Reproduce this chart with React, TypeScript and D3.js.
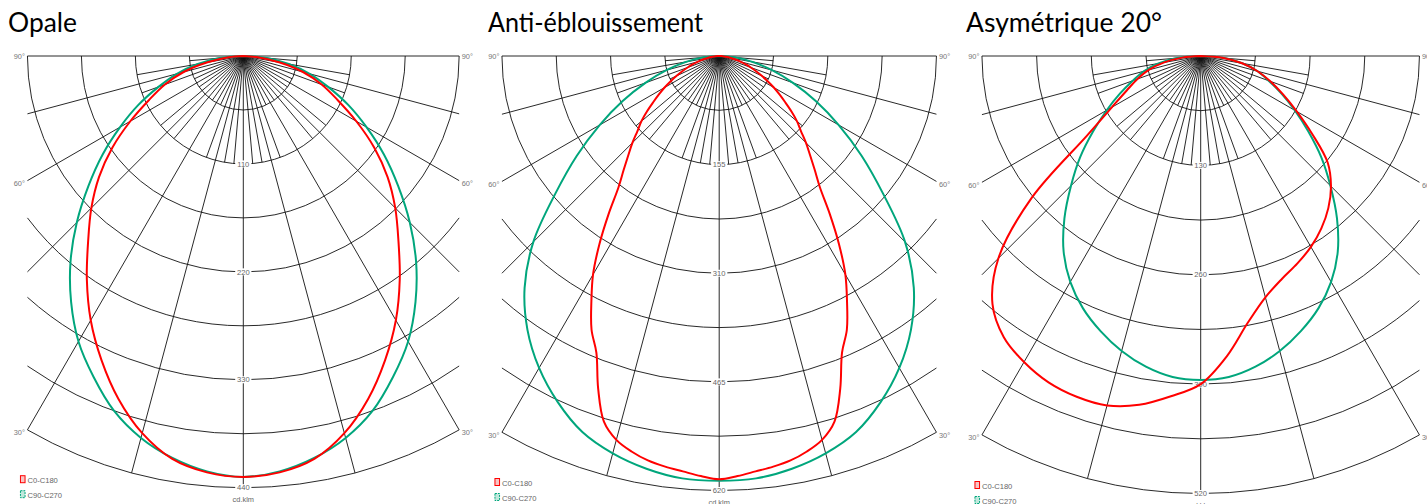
import * as d3 from "d3";

// panel layout
const TITLES = ["Opale", "Anti-éblouissement", "Asymétrique 20°"];
const TITLE_X = [8, 488, 966];
const TITLE_W = [69, 215, 196];
const CENTER_X = [243.3, 719.2, 1200.7];
const CENTER_Y = 56;
const R_MAX = [431.7, 434.5, 437.5];
const RING_STEP = [55, 77.5, 65];
const RING_LABELS = [
  ["110", "220", "330", "440"],
  ["155", "310", "465", "620"],
  ["130", "260", "390", "520"],
];
const LEGEND = ["C0-C180", "C90-C270"];

// angle from nadir, degrees
const ANGLES = [0, 5, 10, 15, 20, 25, 30, 35, 40, 45, 50, 55, 60, 65, 70, 75, 80, 85, 90];
const ANGLES_FINE = [
  0, 2.5, 5, 7.5, 10, 12.5, 15, 17.5, 20, 22.5, 25, 27.5, 30, 32.5, 35, 37.5, 40, 42.5, 45,
  47.5, 50, 52.5, 55, 57.5, 60, 62.5, 65, 67.5, 70, 72.5, 75, 77.5, 80, 82.5, 85, 87.5, 90,
];

// cd/klm
const opaleC0 = [429, 426, 417, 398, 372, 342, 311, 278, 246, 219, 192, 163, 133, 106, 85, 63, 37, 15, 0];
const opaleC90 = [429, 425, 416, 403, 385, 361, 336, 306, 274, 240, 206, 175, 145, 118, 92, 70, 47, 24, 0];

const antiC0 = [
  604, 600, 595, 591, 586, 578, 567, 547, 505, 458, 431, 395, 360, 318, 275, 236, 212, 192, 175,
  158, 145, 130, 115, 102, 90, 78, 67, 57, 48, 40, 32, 25, 18, 12, 7, 3, 0,
];
const antiC90 = [606, 605, 598, 587, 571, 545, 514, 477, 432, 375, 305, 248, 197, 152, 112, 78, 48, 22, 0];

const asymC0 = [390, 358, 322, 297, 282, 272, 262, 250, 236, 219, 197, 162, 132, 108, 88, 70, 50, 27, 0];
const asymC180 = [390, 406, 421, 430, 431, 428, 420, 408, 385, 340, 262, 165, 122, 97, 80, 64, 44, 22, 0];
const asymC90 = [385, 383, 375, 363, 348, 331, 310, 284, 252, 218, 187, 156, 129, 106, 86, 70, 51, 28, 0];

interface Series {
  angles: number[];
  right: number[];
  left: number[];
  color: string;
}

const RED = "#ff0000";
const GREEN = "#00a67c";

const SERIES: Series[][] = [
  [
    { angles: ANGLES, right: opaleC90, left: opaleC90, color: GREEN },
    { angles: ANGLES, right: opaleC0, left: opaleC0, color: RED },
  ],
  [
    { angles: ANGLES, right: antiC90, left: antiC90, color: GREEN },
    { angles: ANGLES_FINE, right: antiC0, left: antiC0, color: RED },
  ],
  [
    { angles: ANGLES, right: asymC90, left: asymC90, color: GREEN },
    { angles: ANGLES, right: asymC0, left: asymC180, color: RED },
  ],
];

const GRID_ANGLES = [
  -90, -85, -80, -75, -70, -65, -60, -55, -50, -45, -40, -35, -30, -25, -20, -15, -10, -5, 0,
  5, 10, 15, 20, 25, 30, 35, 40, 45, 50, 55, 60, 65, 70, 75, 80, 85, 90,
];
const SIDE_LABELS = [90, 60, 30];

const SMALL_FONT = "Arial, 'Liberation Sans', sans-serif";
const RAD = Math.PI / 180;

function Polar({ i }: { i: number }) {
  const cx = CENTER_X[i];
  const cy = CENTER_Y;
  const rMax = R_MAX[i];
  const halfW = rMax / 2;
  const step = RING_STEP[i];
  const r = d3.scaleLinear().domain([0, step * 8]).range([0, rMax]);
  const rings = [1, 2, 3, 4, 5, 6, 7, 8].map((k) => r(k * step));

  const ringPath = (rr: number) => {
    const t = rr <= halfW + 0.01 ? Math.PI / 2 : Math.asin(halfW / rr);
    const a0 = Math.PI / 2 - t;
    const a1 = Math.PI / 2 + t;
    const p = d3.path();
    p.moveTo(cx + rr * Math.cos(a0), cy + rr * Math.sin(a0));
    p.arc(cx, cy, rr, a0, a1);
    return p.toString();
  };

  // 15° lines run to the frame, 10° ones to the 2nd ring, the rest to the 1st
  const radials = GRID_ANGLES.map((a) => {
    const s = Math.abs(Math.sin(a * RAD));
    let len = r(step);
    if (a % 10 === 0 || Math.abs(a) === 5) len = r(step * 2);
    if (a % 15 === 0) len = s < 1e-6 ? rMax : Math.min(rMax, halfW / s);
    return {
      a,
      x2: cx + len * Math.sin(a * RAD),
      y2: cy + len * Math.cos(a * RAD),
    };
  });

  const line = d3
    .lineRadial<[number, number]>()
    .angle((d) => Math.PI - d[0] * RAD)
    .radius((d) => r(d[1]))
    .curve(d3.curveCatmullRom.alpha(0.5));

  const curvePts = (s: Series): [number, number][] => {
    const pts: [number, number][] = [];
    for (let j = s.angles.length - 1; j >= 0; j--) pts.push([-s.angles[j], s.left[j]]);
    for (let j = 1; j < s.angles.length; j++) pts.push([s.angles[j], s.right[j]]);
    return pts;
  };

  const sideY = (deg: number) =>
    deg === 90 ? cy : deg === 30 ? cy + rMax * Math.cos(30 * RAD) : cy + halfW / Math.tan(deg * RAD);

  const legendTop = cy + rMax - 12;
  const lx = cx - halfW - 7;

  return (
    <g>
      <text
        x={TITLE_X[i]}
        y={32}
        textLength={TITLE_W[i]}
        lengthAdjust="spacingAndGlyphs"
        style={{ fontFamily: "Lato, 'Open Sans', sans-serif", fontSize: 27, fill: "#000" }}
      >
        {TITLES[i]}
      </text>
      <g fill="none" stroke="#111" strokeWidth={0.9}>
        {rings.map((rr, k) => (
          <path key={k} d={ringPath(rr)} />
        ))}
        {radials.map((d) => (
          <line key={d.a} x1={cx} y1={cy} x2={d.x2} y2={d.y2} />
        ))}
      </g>
      {RING_LABELS[i].map((lab, k) => {
        const y = cy + rings[2 * k + 1];
        const w = lab.length * 4.4 + 3;
        return (
          <g key={lab}>
            <rect x={cx - w / 2} y={y - 3.5} width={w} height={7} fill="#fff" />
            <text
              x={cx}
              y={y + 2.7}
              textAnchor="middle"
              style={{ fontFamily: SMALL_FONT, fontSize: 7.6, fill: "#666" }}
            >
              {lab}
            </text>
          </g>
        );
      })}
      <text
        x={cx}
        y={cy + rMax + 14}
        textAnchor="middle"
        style={{ fontFamily: SMALL_FONT, fontSize: 7.4, fill: "#666" }}
      >
        cd.klm
      </text>
      {SIDE_LABELS.map((deg) => (
        <g key={deg} style={{ fontFamily: SMALL_FONT, fontSize: 7.4, fill: "#777" }}>
          <text x={cx - halfW - 2.5} y={sideY(deg) + 2.6 + (deg === 90 ? 0 : 3)} textAnchor="end">
            {deg}°
          </text>
          <text x={cx + halfW + 2.5} y={sideY(deg) + 2.6 + (deg === 90 ? 0 : 3)}>
            {deg}°
          </text>
        </g>
      ))}
      <g transform={`translate(${cx},${cy})`} fill="none" strokeWidth={2} strokeLinejoin="round">
        {SERIES[i].map((s, k) => (
          <path key={k} d={line(curvePts(s)) || ""} stroke={s.color} />
        ))}
      </g>
      {LEGEND.map((lab, k) => (
        <g key={lab}>
          <rect
            x={lx}
            y={legendTop + k * 15}
            width={4.6}
            height={7}
            fill={k === 0 ? "#f7c4c4" : "#bfe8dc"}
            stroke={k === 0 ? RED : GREEN}
            strokeWidth={1}
            strokeDasharray={k === 0 ? undefined : "2,1"}
          />
          <text
            x={lx + 7}
            y={legendTop + k * 15 + 7.2}
            style={{ fontFamily: SMALL_FONT, fontSize: 7.6, fill: "#666" }}
          >
            {lab}
          </text>
        </g>
      ))}
    </g>
  );
}

export default function App() {
  return (
    <svg
      width={1427}
      height={504}
      style={{ position: "absolute", left: 0, top: 0, background: "#fff" }}
    >
      {[0, 1, 2].map((i) => (
        <Polar key={i} i={i} />
      ))}
    </svg>
  );
}
